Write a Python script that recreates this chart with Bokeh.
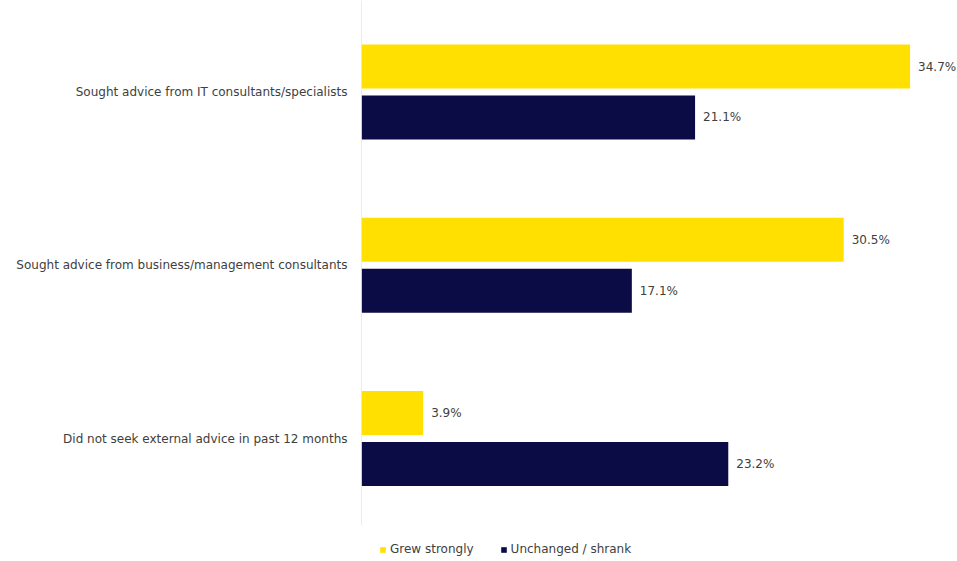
from bokeh.plotting import figure
from bokeh.models import ColumnDataSource, Range1d, Legend, LegendItem, FixedTicker
from bokeh.transform import dodge
from bokeh.core.properties import value
from bokeh.embed import file_html
from bokeh.resources import INLINE

categories = [
    "Sought advice from IT consultants/specialists",
    "Sought advice from business/management consultants",
    "Did not seek external advice in past 12 months",
]
grew_strongly = [34.7, 30.5, 3.9]
unchanged_shrank = [21.1, 17.1, 23.2]
series_names = ["Grew strongly", "Unchanged / shrank"]
colors = ["#FFE000", "#0B0B45"]

FONT = "DejaVu Sans"
FS = "12px"
TXT = "#404040"

n = len(categories)
ypos = [n - i - 0.5 for i in range(n)]

src = ColumnDataSource(dict(
    y=ypos,
    g=grew_strongly,
    u=unchanged_shrank,
    gl=[f"{v:.1f}%" for v in grew_strongly],
    ul=[f"{v:.1f}%" for v in unchanged_shrank],
))

H = 561
unit_px = 173.25
top_pad = 4.9
y_end = n + top_pad / unit_px
p = figure(width=957, height=H, output_backend="svg", toolbar_location=None,
           y_range=Range1d(y_end - H / unit_px, y_end),
           x_range=Range1d(0, 37.7),
           min_border_left=361, min_border_right=0, min_border_top=0, min_border_bottom=0)

off = 0.147
h = 0.254
r1 = p.hbar(y=dodge("y", off), right="g", left=0, height=h,
            source=src, fill_color=colors[0], line_color=None)
r2 = p.hbar(y=dodge("y", -off), right="u", left=0, height=h,
            source=src, fill_color=colors[1], line_color=None)

p.text(x="g", y=dodge("y", off), text="gl", source=src,
       x_offset=8, text_baseline="middle", text_align="left",
       text_font=value(FONT), text_font_size=FS, text_color=TXT)
p.text(x="u", y=dodge("y", -off), text="ul", source=src,
       x_offset=8, text_baseline="middle", text_align="left",
       text_font=value(FONT), text_font_size=FS, text_color=TXT)

# category axis baseline
p.segment(x0=[0], y0=[0], x1=[0], y1=[y_end], line_color="#d9d9d9", line_width=1)

p.xaxis.visible = False
p.xgrid.visible = False
p.ygrid.visible = False
p.outline_line_color = None

ya = p.yaxis[0]
ya.ticker = FixedTicker(ticks=ypos)
ya.major_label_overrides = {y: c for y, c in zip(ypos, categories)}
ya.axis_line_color = None
ya.major_tick_line_color = None
ya.minor_tick_line_color = None
ya.major_label_standoff = 8
ya.major_label_text_font = FONT
ya.major_label_text_font_size = FS
ya.major_label_text_color = TXT

legend = Legend(items=[
    LegendItem(label=series_names[0], renderers=[r1]),
    LegendItem(label=series_names[1], renderers=[r2]),
], orientation="horizontal", location=(18, 5))
legend.label_text_font = FONT
legend.label_text_font_size = FS
legend.label_text_color = TXT
legend.glyph_width = 7
legend.glyph_height = 7
legend.label_standoff = 4
legend.spacing = 26
legend.padding = 4
legend.margin = 0
legend.border_line_color = None
legend.background_fill_alpha = 0
p.add_layout(legend, "center")

open("out.html", "w").write(file_html(p, INLINE))
